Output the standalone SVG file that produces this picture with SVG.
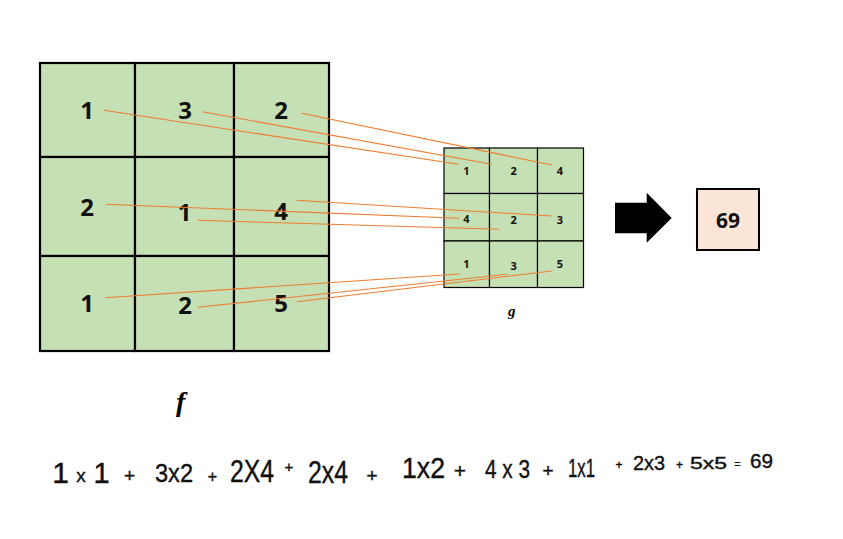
<svg xmlns="http://www.w3.org/2000/svg" width="843" height="539" viewBox="0 0 843 539">
<style>
.cell{fill:#c5e0b4;stroke:#000;}
.big{stroke-width:2.2;}
.small{stroke-width:1.2;}
.nb{font-family:"Noto Sans","Open Sans",sans-serif;font-weight:bold;font-size:24px;text-anchor:middle;fill:#111;}
.ns{font-family:"Noto Sans","Open Sans",sans-serif;font-weight:bold;font-size:11px;text-anchor:middle;fill:#111;}
.link{stroke:#ed7d31;stroke-width:1.1;fill:none;}
.hw{font-family:"Liberation Sans",sans-serif;fill:#111;stroke:#111;stroke-width:0.4;}
.hm{font-family:"Liberation Sans",sans-serif;fill:#111;stroke:#111;stroke-width:0.4;text-anchor:middle;}
</style>
<rect width="843" height="539" fill="#fff"/>
<g id="f-matrix">
<rect class="cell big" x="40" y="63" width="95" height="94"/>
<rect class="cell big" x="135" y="63" width="99" height="94"/>
<rect class="cell big" x="234" y="63" width="95" height="94"/>
<rect class="cell big" x="40" y="157" width="95" height="99"/>
<rect class="cell big" x="135" y="157" width="99" height="99"/>
<rect class="cell big" x="234" y="157" width="95" height="99"/>
<rect class="cell big" x="40" y="256" width="95" height="95"/>
<rect class="cell big" x="135" y="256" width="99" height="95"/>
<rect class="cell big" x="234" y="256" width="95" height="95"/>
<text class="nb" x="87" y="119">1</text>
<text class="nb" x="185" y="119">3</text>
<text class="nb" x="281" y="119">2</text>
<text class="nb" x="87" y="216">2</text>
<text class="nb" x="184.5" y="220.5">1</text>
<text class="nb" x="281" y="220">4</text>
<text class="nb" x="87" y="312">1</text>
<text class="nb" x="185" y="314">2</text>
<text class="nb" x="281" y="312">5</text>
</g>
<g id="g-matrix">
<rect class="cell small" x="444" y="148" width="45.5" height="45.5"/>
<rect class="cell small" x="489.5" y="148" width="48" height="45.5"/>
<rect class="cell small" x="537.5" y="148" width="46" height="45.5"/>
<rect class="cell small" x="444" y="193.5" width="45.5" height="47.5"/>
<rect class="cell small" x="489.5" y="193.5" width="48" height="47.5"/>
<rect class="cell small" x="537.5" y="193.5" width="46" height="47.5"/>
<rect class="cell small" x="444" y="241" width="45.5" height="46.5"/>
<rect class="cell small" x="489.5" y="241" width="48" height="46.5"/>
<rect class="cell small" x="537.5" y="241" width="46" height="46.5"/>
<text class="ns" x="466.5" y="175">1</text>
<text class="ns" x="513.7" y="175">2</text>
<text class="ns" x="560" y="175">4</text>
<text class="ns" x="466.5" y="222.5">4</text>
<text class="ns" x="513.7" y="224">2</text>
<text class="ns" x="560" y="224">3</text>
<text class="ns" x="466.5" y="268">1</text>
<text class="ns" x="513.7" y="270">3</text>
<text class="ns" x="560" y="268">5</text>
</g>
<g id="connectors">
<line class="link" x1="104" y1="110.3" x2="458.7" y2="164.3"/>
<line class="link" x1="202.3" y1="111.7" x2="491.7" y2="164.3"/>
<line class="link" x1="301.7" y1="113.3" x2="551.7" y2="165"/>
<line class="link" x1="105.7" y1="204.3" x2="459.3" y2="218.3"/>
<line class="link" x1="296.7" y1="200.3" x2="551.7" y2="216"/>
<line class="link" x1="197.7" y1="220.3" x2="499.3" y2="229.3"/>
<line class="link" x1="105" y1="297.7" x2="459.3" y2="274"/>
<line class="link" x1="197.7" y1="307.3" x2="507.3" y2="274.3"/>
<line class="link" x1="296.7" y1="301.7" x2="551.7" y2="271"/>
</g>
<g id="arrow">
<polygon points="615,202.7 646.7,202.7 646.7,192.7 671.7,218 646.7,242.7 646.7,233.3 615,233.3" fill="#000"/>
</g>
<g id="result">
<rect x="697" y="189" width="62" height="61" fill="#fbe5d6" stroke="#000" stroke-width="2"/>
<text class="nb" x="728" y="228" style="font-size:21px">69</text>
</g>
<g id="labels">
<text x="176" y="411" style="font-family:'Liberation Serif',serif;font-style:italic;font-weight:bold;font-size:28px;fill:#000">f</text>
<text x="508" y="316" style="font-family:'Liberation Serif',serif;font-style:italic;font-weight:bold;font-size:15px;fill:#000">g</text>
</g>
<g id="equation">
<text class="hm" x="60.5" y="483" font-size="30">1</text>
<text class="hm" x="81" y="482" font-size="19">x</text>
<text class="hm" x="101.5" y="483" font-size="29">1</text>
<text class="hm" x="129.5" y="482" font-size="19">+</text>
<text class="hw" x="155" y="482" font-size="26" textLength="38" lengthAdjust="spacingAndGlyphs">3x2</text>
<text class="hm" x="212.5" y="482" font-size="16">+</text>
<text class="hw" x="230" y="482" font-size="31" textLength="44" lengthAdjust="spacingAndGlyphs">2X4</text>
<text class="hm" x="289" y="472" font-size="15">+</text>
<text class="hw" x="308" y="483" font-size="31" textLength="40" lengthAdjust="spacingAndGlyphs">2x4</text>
<text class="hm" x="372" y="482" font-size="19">+</text>
<text class="hw" x="402" y="478" font-size="30" textLength="43" lengthAdjust="spacingAndGlyphs">1x2</text>
<text class="hm" x="460" y="478" font-size="21">+</text>
<text class="hw" x="485" y="478" font-size="26" textLength="45" lengthAdjust="spacingAndGlyphs">4 x 3</text>
<text class="hm" x="548" y="477" font-size="19">+</text>
<text class="hw" x="568" y="477" font-size="26" textLength="27" lengthAdjust="spacingAndGlyphs">1x1</text>
<text class="hm" x="619" y="469" font-size="12">+</text>
<text class="hw" x="633" y="470" font-size="21" textLength="32" lengthAdjust="spacingAndGlyphs">2x3</text>
<text class="hm" x="679.5" y="469" font-size="12">+</text>
<text class="hw" x="690" y="469" font-size="16" textLength="37" lengthAdjust="spacingAndGlyphs">5x5</text>
<text class="hm" x="737.5" y="468" font-size="11">=</text>
<text class="hw" x="750" y="468" font-size="20" textLength="23" lengthAdjust="spacingAndGlyphs">69</text>
</g>
</svg>
